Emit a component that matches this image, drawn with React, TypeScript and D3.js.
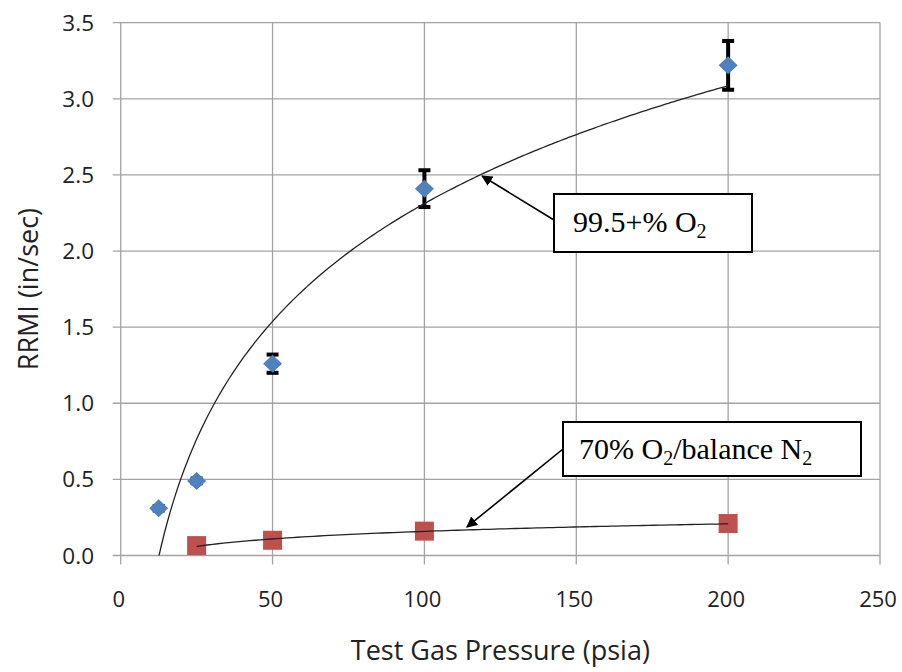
import React, { useEffect, useRef } from 'react';
import * as d3 from 'd3';

// Pure oxygen series (with error bars)
const o2Pressure = [12.5, 25, 50, 100, 200];
const o2Rate = [0.31, 0.49, 1.26, 2.41, 3.22];
const o2ErrLow = [0.015, 0.015, 0.06, 0.12, 0.16];
const o2ErrHigh = [0.015, 0.015, 0.06, 0.12, 0.16];

// 70% O2 / balance N2 series
const mixPressure = [25, 50, 100, 200];
const mixRate = [0.065, 0.1, 0.16, 0.21];

const xTicks = [0, 50, 100, 150, 200, 250];
const yTicks = [0, 0.5, 1.0, 1.5, 2.0, 2.5, 3.0, 3.5];

// log trendline fit y = a ln(x) + b
function logFit(xs: number[], ys: number[]) {
  const lx = xs.map(Math.log);
  const mx = d3.mean(lx) as number;
  const my = d3.mean(ys) as number;
  const sxy = d3.sum(lx, (v, i) => (v - mx) * (ys[i] - my));
  const sxx = d3.sum(lx, (v) => (v - mx) ** 2);
  const a = sxy / sxx;
  const b = my - a * mx;
  return (x: number) => a * Math.log(x) + b;
}

export default function App() {
  const svgRef = useRef<SVGSVGElement | null>(null);

  useEffect(() => {
    if (!svgRef.current) return;
    const width = 902;
    const height = 672;
    const svg = d3.select(svgRef.current);
    svg.selectAll('*').remove();

    const x = d3.scaleLinear().domain([0, 250]).range([120.7, 880]);
    const y = d3.scaleLinear().domain([0, 3.5]).range([555.5, 22.7]);
    const grid = '#a3a3a3';
    const sans = '"Open Sans", sans-serif';

    svg.append('rect').attr('width', width).attr('height', height).attr('fill', '#fff');

    const defs = svg.append('defs');
    defs.append('clipPath').attr('id', 'plot')
      .append('rect')
      .attr('x', x(0)).attr('y', y(3.5))
      .attr('width', x(250) - x(0)).attr('height', y(0) - y(3.5));
    defs.append('marker')
      .attr('id', 'arrow')
      .attr('viewBox', '0 0 10 10')
      .attr('refX', 9).attr('refY', 5)
      .attr('markerWidth', 11).attr('markerHeight', 11)
      .attr('markerUnits', 'userSpaceOnUse')
      .attr('orient', 'auto')
      .append('path')
      .attr('d', 'M0,0 L10,5 L0,10 Z')
      .attr('fill', '#000');

    // gridlines
    svg.append('g').selectAll('line.h').data(yTicks).join('line')
      .attr('x1', x(0) - 8).attr('x2', x(250))
      .attr('y1', (d) => y(d)).attr('y2', (d) => y(d))
      .attr('stroke', grid).attr('stroke-width', 1.3);
    svg.append('g').selectAll('line.v').data(xTicks).join('line')
      .attr('x1', (d) => x(d)).attr('x2', (d) => x(d))
      .attr('y1', y(3.5)).attr('y2', y(0) + 9)
      .attr('stroke', grid).attr('stroke-width', 1.3);

    // tick labels
    svg.append('g').selectAll('text').data(yTicks).join('text')
      .attr('x', 94).attr('y', (d) => y(d) + 8)
      .attr('text-anchor', 'end')
      .attr('font-family', sans).attr('font-size', 22.5).attr('fill', '#222')
      .text((d) => d.toFixed(1));
    svg.append('g').selectAll('text').data(xTicks).join('text')
      .attr('x', (d) => x(d) - 2).attr('y', 607)
      .attr('text-anchor', 'middle')
      .attr('font-family', sans).attr('font-size', 22).attr('fill', '#222')
      .text((d) => String(d));

    // axis titles
    svg.append('text')
      .attr('x', (x(0) + x(250)) / 2).attr('y', 660)
      .attr('text-anchor', 'middle')
      .attr('font-family', sans).attr('font-size', 27).attr('fill', '#222')
      .text('Test Gas Pressure (psia)');
    svg.append('text')
      .attr('transform', `translate(38, ${(y(0) + y(3.5)) / 2}) rotate(-90)`)
      .attr('text-anchor', 'middle')
      .attr('font-family', sans).attr('font-size', 27).attr('fill', '#222')
      .text('RRMI (in/sec)');

    const plot = svg.append('g').attr('clip-path', 'url(#plot)');

    // error bars
    const eb = plot.append('g').attr('stroke', '#000');
    o2Pressure.forEach((p, i) => {
      const lo = y(o2Rate[i] - o2ErrLow[i]);
      const hi = y(o2Rate[i] + o2ErrHigh[i]);
      eb.append('line').attr('x1', x(p)).attr('x2', x(p)).attr('y1', lo).attr('y2', hi).attr('stroke-width', 4);
      eb.append('line').attr('x1', x(p) - 6).attr('x2', x(p) + 6).attr('y1', lo).attr('y2', lo).attr('stroke-width', 4);
      eb.append('line').attr('x1', x(p) - 6).attr('x2', x(p) + 6).attr('y1', hi).attr('y2', hi).attr('stroke-width', 4);
    });

    // markers
    plot.append('g').selectAll('path').data(o2Pressure).join('path')
      .attr('d', 'M0,-9 L9.5,0 L0,9 L-9.5,0 Z')
      .attr('transform', (d, i) => `translate(${x(d)},${y(o2Rate[i])})`)
      .attr('fill', '#4f81bd');
    plot.append('g').selectAll('rect').data(mixPressure).join('rect')
      .attr('x', (d) => x(d) - 9.5).attr('y', (d, i) => y(mixRate[i]) - 9.5)
      .attr('width', 19).attr('height', 19)
      .attr('fill', '#c0504d');

    // trendlines
    const f1 = logFit(o2Pressure, o2Rate);
    const f2 = logFit(mixPressure, mixRate);
    const line = d3.line<[number, number]>().x((d) => x(d[0])).y((d) => y(d[1]));
    const pts1 = d3.range(0, 201).map((i) => {
      const p = 12.5 + (200 - 12.5) * (i / 200);
      return [p, f1(p)] as [number, number];
    });
    const pts2 = d3.range(0, 101).map((i) => {
      const p = 25 + (200 - 25) * (i / 100);
      return [p, f2(p)] as [number, number];
    });
    plot.append('path').attr('d', line(pts1)).attr('fill', 'none').attr('stroke', '#222').attr('stroke-width', 1.3);
    plot.append('path').attr('d', line(pts2)).attr('fill', 'none').attr('stroke', '#222').attr('stroke-width', 1.3);

    // callouts
    const callout = (bx: number, by: number, bw: number, bh: number, ay: number, tx: number, ty: number) => {
      svg.append('line')
        .attr('x1', bx).attr('y1', ay)
        .attr('x2', tx).attr('y2', ty)
        .attr('stroke', '#000').attr('stroke-width', 1.6)
        .attr('marker-end', 'url(#arrow)');
      svg.append('rect')
        .attr('x', bx).attr('y', by).attr('width', bw).attr('height', bh)
        .attr('fill', '#fff').attr('stroke', '#000').attr('stroke-width', 2);
    };

    const tip1x = 119;
    callout(554, 194, 198, 58, 220, x(tip1x), y(f1(tip1x)) + 2);
    const t1 = svg.append('text')
      .attr('x', 573).attr('y', 232)
      .attr('font-family', '"Liberation Serif", serif').attr('font-size', 30).attr('fill', '#000');
    t1.append('tspan').text('99.5+% O');
    t1.append('tspan').attr('font-size', 20).attr('dy', 6).text('2');

    const tip2x = 114;
    callout(563, 422, 298, 54, 449, x(tip2x), y(f2(tip2x)) - 3);
    const t2 = svg.append('text')
      .attr('x', 579).attr('y', 459)
      .attr('font-family', '"Liberation Serif", serif').attr('font-size', 30).attr('fill', '#000');
    t2.append('tspan').text('70% O');
    t2.append('tspan').attr('font-size', 20).attr('dy', 6).text('2');
    t2.append('tspan').attr('dy', -6).text('/balance N');
    t2.append('tspan').attr('font-size', 20).attr('dy', 6).text('2');
  }, []);

  return (
    <svg
      ref={svgRef}
      width={902}
      height={672}
      style={{ position: 'absolute', left: 0, top: 0, display: 'block' }}
    />
  );
}
